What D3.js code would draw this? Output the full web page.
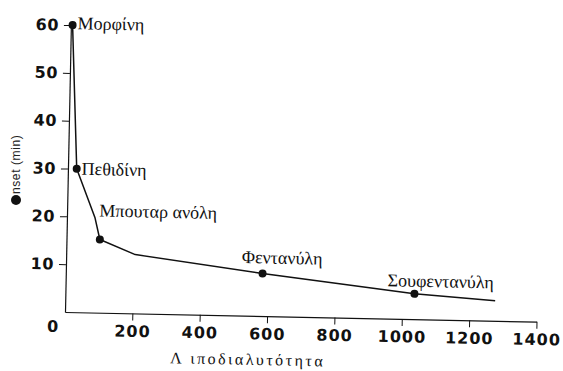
<!DOCTYPE html>
<html>
<head>
<meta charset="utf-8">
<script src="https://cdn.jsdelivr.net/npm/d3@7/dist/d3.min.js"></script>
<style>
  html, body { margin: 0; padding: 0; background: #fff; }
  svg { display: block; }
</style>
</head>
<body>
<div id="chart"></div>
<script>
// ---- data ----
const drugs = ["Μορφίνη", "Πεθιδίνη", "Μπουταρ ανόλη", "Φεντανύλη", "Σουφεντανύλη"];
const lipidSolubility = [5, 26, 99, 584, 1036];
const onsetMin = [60, 30, 15.3, 8.9, 5.3];
// curve trace (passes through the drug points)
const curveX = [5, 26, 83, 99, 205, 584, 1036, 1276];
const curveY = [60, 30, 19.9, 15.3, 12.3, 8.9, 5.3, 4.2];
const xTicks = [200, 400, 600, 800, 1000, 1200, 1400];
const yTicks = [10, 20, 30, 40, 50, 60];
const xTitle = "Λ ιποδιαλυτότητα";
const yTitle = "nset (min)";
// label offsets (px) from each point
const labelDx = [5, 5, -1, -21, -27];
const labelDy = [4, 6, -23, -10, -7];

const W = 563, H = 371;
const svg = d3.select("#chart").append("svg").attr("width", W).attr("height", H);

const x = d3.scaleLinear().domain([0, 1400]).range([0, 471.6]);
const y = d3.scaleLinear().domain([0, 60]).range([0, -287]);

// the scanned figure is slightly rotated
const g = svg.append("g").attr("transform", "translate(65,312) rotate(1.18)");

const tickFont = "'DejaVu Sans', sans-serif";

const xAxis = d3.axisBottom(x).tickValues(xTicks).tickFormat(d3.format("d"))
  .tickSize(7).tickPadding(5).tickSizeOuter(0);
const gx = g.append("g").call(xAxis);
gx.select(".domain").attr("stroke", "#111").attr("stroke-width", 1.2);
gx.selectAll(".tick line").attr("stroke", "#111").attr("stroke-width", 1);
gx.selectAll(".tick text").attr("font-family", tickFont).attr("font-weight", "bold")
  .attr("font-size", 16).attr("letter-spacing", 1).attr("fill", "#111");

const yAxis = d3.axisLeft(y).tickValues(yTicks).tickFormat(d3.format("d"))
  .tickSize(7).tickPadding(5).tickSizeOuter(0);
const gy = g.append("g").call(yAxis);
gy.select(".domain").attr("stroke", "#111").attr("stroke-width", 1.2);
gy.selectAll(".tick line").attr("stroke", "#111").attr("stroke-width", 1);
gy.selectAll(".tick text").attr("font-family", tickFont).attr("font-weight", "bold")
  .attr("font-size", 16).attr("letter-spacing", 0.5).attr("fill", "#111");

// origin "0"
g.append("text").attr("x", x(0) - 12).attr("y", 20).attr("text-anchor", "middle")
  .attr("font-family", tickFont).attr("font-weight", "bold").attr("font-size", 16)
  .attr("fill", "#111").text("0");

// curve
const line = d3.line().x(d => x(d[0])).y(d => y(d[1]));
g.append("path").datum(d3.zip(curveX, curveY)).attr("d", line)
  .attr("fill", "none").attr("stroke", "#111").attr("stroke-width", 1.5)
  .attr("stroke-linejoin", "round");

// points
const pts = d3.zip(lipidSolubility, onsetMin);
g.selectAll("circle.pt").data(pts).join("circle").attr("class", "pt")
  .attr("cx", d => x(d[0])).attr("cy", d => y(d[1])).attr("r", 4).attr("fill", "#111");

// labels
g.selectAll("text.lbl").data(drugs).join("text").attr("class", "lbl")
  .attr("x", (d, i) => x(lipidSolubility[i]) + labelDx[i])
  .attr("y", (d, i) => y(onsetMin[i]) + labelDy[i])
  .attr("font-family", "'Liberation Serif', 'Times New Roman', serif")
  .attr("font-size", 18).attr("fill", "#111").text(d => d);

// x title
g.append("text").attr("x", 106).attr("y", 49)
  .attr("font-family", "'Liberation Serif', 'Times New Roman', serif")
  .attr("font-size", 16).attr("letter-spacing", 2.5).attr("fill", "#111").text(xTitle);

// y title (rotated), with filled circle for the "O"
const yt = svg.append("g").attr("transform", "translate(20,200) rotate(-90)");
yt.append("circle").attr("cx", 0).attr("cy", -4).attr("r", 5).attr("fill", "#111");
yt.append("text").attr("x", 6).attr("y", 0)
  .attr("font-family", "'Liberation Sans', Arial, sans-serif")
  .attr("font-size", 12).attr("letter-spacing", 0.6).attr("fill", "#222").text(yTitle);
</script>
</body>
</html>
